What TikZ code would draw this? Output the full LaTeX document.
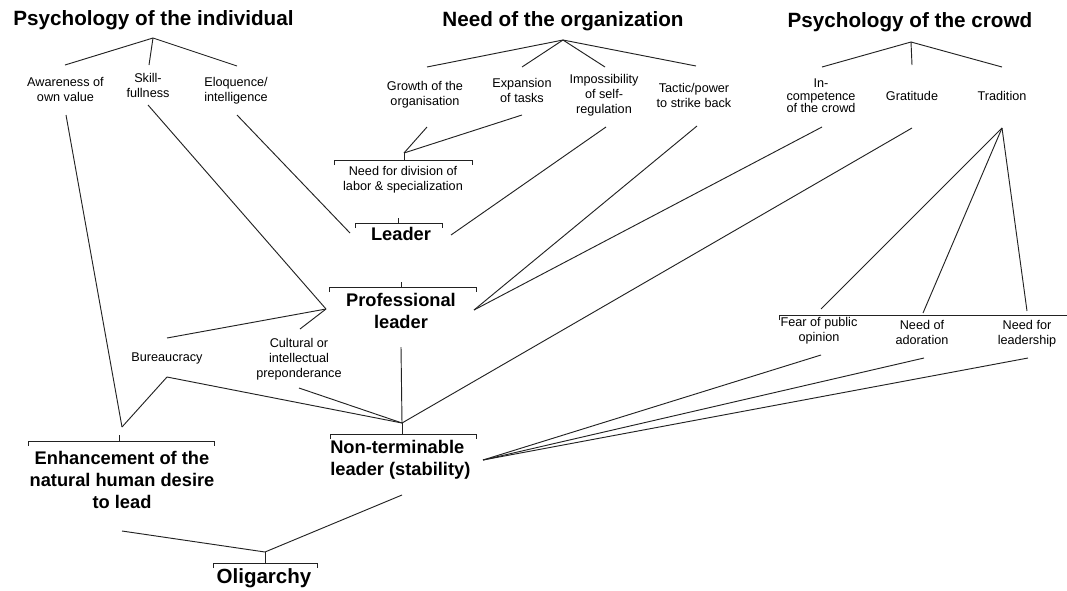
\documentclass[tikz,border=0pt]{standalone}
\usepackage{fontspec}
\setmainfont{Liberation Sans}
\usetikzlibrary{positioning}
\definecolor{ink}{HTML}{222222}

\tikzset{
  heading/.style={font=\fontsize{15.5}{18}\selectfont\bfseries, inner sep=0pt},
  factor/.style={font=\fontsize{9.5}{11.25}\selectfont, align=center, inner sep=0pt},
  outcome/.style={font=\fontsize{13.7}{16.5}\selectfont\bfseries, align=center, inner sep=0pt},
  link/.style={draw=ink, line width=0.7pt},
}
\newcommand{\joinbar}[5]{%
  \draw[link] (#1,#3+5) -- (#1,#3) -- (#2,#3) -- (#2,#3+5);
  \draw[link] (#4,#5) -- (#4,#3);
}

\begin{document}
\begin{tikzpicture}[x=0.75pt, y=-0.75pt]
    \useasboundingbox (0,0) rectangle (1067,590);

    \node[heading] (indiv) at (153.5,20) {Psychology of the individual};
    \node[heading] (organ) at (563,21) {Need of the organization};
    \node[heading] (crowd) at (910,22) {Psychology of the crowd};

    \node[factor] (aware) at (65.5,89) {Awareness of\\own value};
    \node[factor] (skill) at (148,85) {Skill-\\fullness};
    \node[factor] (eloq) at (236,91) {Eloquence/\\intelligence};
    \node[factor] (growth) at (425,95) {Growth of the\\organisation};
    \node[factor] (expan) at (522,90) {Expansion\\of tasks};
    \node[factor] (imposs) at (604,95) {Impossibility\\of self-\\regulation};
    \node[factor] (tactic) at (694,95) {Tactic/power\\to strike back};
    \node[factor, font=\fontsize{9.5}{9.4}\selectfont] (incomp) at (821,96) {In-\\competence\\of the crowd};
    \node[factor] (grat) at (912,96) {Gratitude};
    \node[factor] (trad) at (1002,96) {Tradition};
    \node[factor] (divis) at (403,180) {Need for division of\\labor \& specialization};
    \node[factor] (bureau) at (167,358) {Bureaucracy};
    \node[factor] (cult) at (299,359) {Cultural or\\intellectual\\preponderance};
    \node[factor] (fear) at (819,331) {Fear of public\\opinion};
    \node[factor] (ador) at (922,332) {Need of\\adoration};
    \node[factor] (needl) at (1027,334) {Need for\\leadership};

    \node[outcome] (leader) at (401,234) {Leader};
    \node[outcome] (prof) at (401,311) {Professional\\leader};
    \node[outcome] (enh) at (122,480) {Enhancement of the\\natural human desire\\to lead};
    \node[outcome, align=left, anchor=west] (nonterm) at (330,460) {Non-terminable\\leader (stability)};
    \node[outcome, font=\fontsize{15.4}{18}\selectfont\bfseries] (olig) at (264,578) {Oligarchy};

    % branch tops
    \coordinate (indiv-a) at (153,38);
    \coordinate (organ-a) at (563,40);
    \coordinate (crowd-a) at (911,42);
    \coordinate (aware-t) at (65,65);
    \coordinate (skill-t) at (149,65);
    \coordinate (eloq-t) at (237,66);
    \coordinate (growth-t) at (427,67);
    \coordinate (expan-t) at (522,67);
    \coordinate (imposs-t) at (605,67);
    \coordinate (tactic-t) at (696,66);
    \coordinate (incomp-t) at (822,67);
    \coordinate (grat-t) at (912,65);
    \coordinate (trad-t) at (1002,67);
    \coordinate (bureau-t) at (167,338);
    \coordinate (cult-t) at (300,329);
    \coordinate (fear-t) at (821,309);
    \coordinate (ador-t) at (923,313);
    \coordinate (needl-t) at (1027,311);

    % branch bottoms
    \coordinate (aware-b) at (66,115);
    \coordinate (skill-b) at (148,105);
    \coordinate (eloq-b) at (237,115);
    \coordinate (growth-b) at (427,127);
    \coordinate (expan-b) at (522,115);
    \coordinate (imposs-b) at (606,127);
    \coordinate (tactic-b) at (697,126);
    \coordinate (incomp-b) at (822,127);
    \coordinate (grat-b) at (912,128);
    \coordinate (trad-b) at (1002,128);
    \coordinate (bureau-b) at (167,377);
    \coordinate (cult-b) at (299,388);
    \coordinate (fear-b) at (821,355);
    \coordinate (ador-b) at (924,358);
    \coordinate (needl-b) at (1028,358);

    % junctions
    \coordinate (divis-j) at (404,153);
    \coordinate (divis-b) at (398,218);
    \coordinate (leader-l) at (350,233);
    \coordinate (leader-r) at (451,235);
    \coordinate (leader-b) at (401,282);
    \coordinate (prof-l) at (326,309);
    \coordinate (prof-r) at (474,310);
    \coordinate (prof-b) at (401,347);
    \coordinate (enh-j) at (122,427);
    \coordinate (enh-b) at (122,531);
    \coordinate (nonterm-j) at (402,423);
    \coordinate (nonterm-r) at (483,460);
    \coordinate (nonterm-b) at (402,495);
    \coordinate (olig-j) at (265,552);

    \foreach \c in {aware, skill, eloq}
        \draw[link] (indiv-a) -- (\c-t);
    \foreach \c in {growth, expan, imposs, tactic}
        \draw[link] (organ-a) -- (\c-t);
    \foreach \c in {incomp, grat, trad}
        \draw[link] (crowd-a) -- (\c-t);

    \joinbar{334}{472}{160}{404}{153}
    \joinbar{355}{442}{223}{398}{218}
    \joinbar{329}{476}{287}{401}{282}
    \joinbar{28}{214}{441}{119}{435}
    \joinbar{330}{476}{434}{402}{423}
    \joinbar{213}{317}{563}{265}{552}
    \draw[link] (779,320) -- (779,315) -- (1067,315);

    \draw[link] (growth-b) -- (divis-j);
    \draw[link] (expan-b) -- (divis-j);
    \draw[link] (eloq-b) -- (leader-l);
    \draw[link] (imposs-b) -- (leader-r);
    \foreach \c in {skill-b, bureau-t, cult-t}
        \draw[link] (\c) -- (prof-l);
    \foreach \c in {tactic-b, incomp-b}
        \draw[link] (\c) -- (prof-r);
    \foreach \c in {aware-b, bureau-b}
        \draw[link] (\c) -- (enh-j);
    \foreach \c in {prof-b, bureau-b, cult-b, grat-b}
        \draw[link] (\c) -- (nonterm-j);
    \foreach \c in {fear, ador, needl}
        \draw[link] (trad-b) -- (\c-t);
    \foreach \c in {fear, ador, needl}
        \draw[link] (\c-b) -- (nonterm-r);
    \draw[link] (enh-b) -- (olig-j);
    \draw[link] (nonterm-b) -- (olig-j);
\end{tikzpicture}
\end{document}
